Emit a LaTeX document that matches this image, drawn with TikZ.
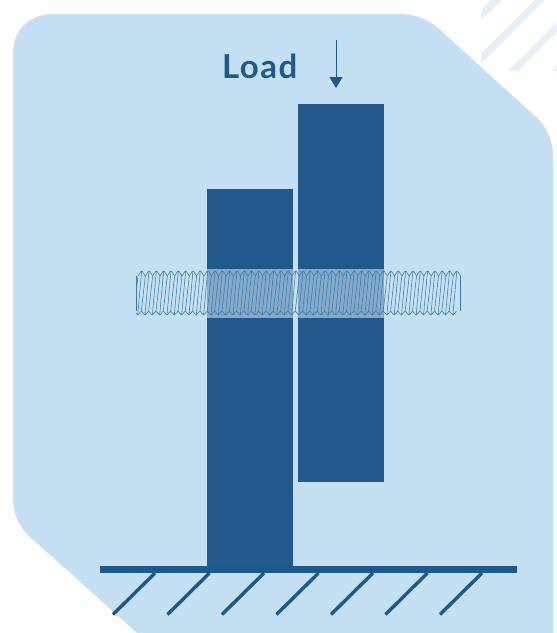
\documentclass[tikz,border=0pt]{standalone}
\usepackage{fontspec}
\setmainfont{Lato}
\newfontfamily\loadfont[LetterSpace=4.5,BoldFont={Lato Bold}]{Lato}
\usetikzlibrary{arrows.meta}
\definecolor{bgblue}{HTML}{C5E0F3}
\definecolor{stripe}{HTML}{E9EFF7}
\definecolor{barblue}{HTML}{235A8E}
\definecolor{inkblue}{HTML}{1C5A8E}
\definecolor{threadblue}{HTML}{3E78A9}
\tikzset{
  bar/.style={fill=barblue,draw=none},
  hatch/.style={draw=inkblue,line width=3.4pt},
  threadline/.style={draw=threadblue,line width=0.55pt,line join=round},
  stripeband/.style={fill=stripe,draw=none}
}
\begin{document}
\begin{tikzpicture}[x=1pt,y=-1pt]
\useasboundingbox (0,0) rectangle (557,633);
% stripes
\begin{scope}
\clip (481,0) rectangle (557,70.7);
\fill[stripeband] (491,0) -- (502,0) -- (481,20) -- (481,10) -- cycle;
\fill[stripeband] (535,0) -- (545,0) -- (481,63.5) -- (481,53.5) -- cycle;
\fill[stripeband] (557,21.7) -- (557,31.7) -- (518.3,70.7) -- (508.3,70.7) -- cycle;
\fill[stripeband] (557,65) -- (557,71) -- (551,71) -- cycle;
\end{scope}
% background
\fill[bgblue] (13,52) .. controls (13,30) and (30,14) .. (52,14)
  -- (398,14) .. controls (415,14) and (427,19) .. (437,27)
  -- (535,116) .. controls (547,127) and (553,140) .. (553,157)
  -- (553,633) -- (137,633) -- (30,537)
  .. controls (19,527) and (13,514) .. (13,497) -- cycle;
% bars
\fill[bar] (207,189) rectangle (293,570);
\fill[bar] (298,104) rectangle (384,482);
% ground
\fill[inkblue] (100,566) rectangle (517,573);
\foreach \hx in {155,209.5,264,318.5,373,427.5,482}{
  \draw[hatch] (\hx,573) -- ++(-42,41.5);
}
% load
\node[anchor=base west,inner sep=0pt,text=inkblue,font=\fontsize{33}{36}\loadfont\bfseries] (load) at (222,78) {Load};
\coordinate (arrowtop) at (336,40);
\coordinate (arrowtip) at (336,88);
\draw[draw=inkblue,line width=1pt,-{Triangle[length=11pt,width=13pt,fill=inkblue]}] (arrowtop) -- (arrowtip);
% overlay band on bars
\fill[bgblue,opacity=0.6] (207,269) rectangle (293,318);
\fill[bgblue,opacity=0.6] (298,269) rectangle (384,318);
% thread
\begin{scope}
\clip (136,260) rectangle (460.5,325);
\pgfmathsetmacro{\pitch}{7.33}
\foreach \i in {0,...,43}{
  \pgfmathsetmacro{\xa}{138+\i*\pitch}
  \pgfmathsetmacro{\xb}{\xa+\pitch/2}
  \pgfmathsetmacro{\xc}{\xa+\pitch}
  \pgfmathsetmacro{\xd}{\xa+\pitch/2-4}
  \pgfmathsetmacro{\xe}{\xa-4+\pitch}
  \pgfmathsetmacro{\xf}{\xa-4}
  \draw[threadline] (\xa,276) .. controls (\xa+1.5,275) and (\xb-1.5,271) .. (\xb,271) .. controls (\xb+1.5,271) and (\xc-1.5,275) .. (\xc,276);
  \draw[threadline] (\xf,311) .. controls (\xf+1.5,311.5) and (\xd-1.5,315) .. (\xd,315) .. controls (\xd+1.5,315) and (\xe-1.5,311.5) .. (\xe,311);
  \draw[threadline] (\xb,271) -- (\xd,315);
  \draw[threadline] (\xa,276) -- (\xf,311);
}
\end{scope}
\draw[threadline] (136.3,276) -- (136.3,311);
\draw[threadline] (460,276) -- (460,311);
\end{tikzpicture}
\end{document}
